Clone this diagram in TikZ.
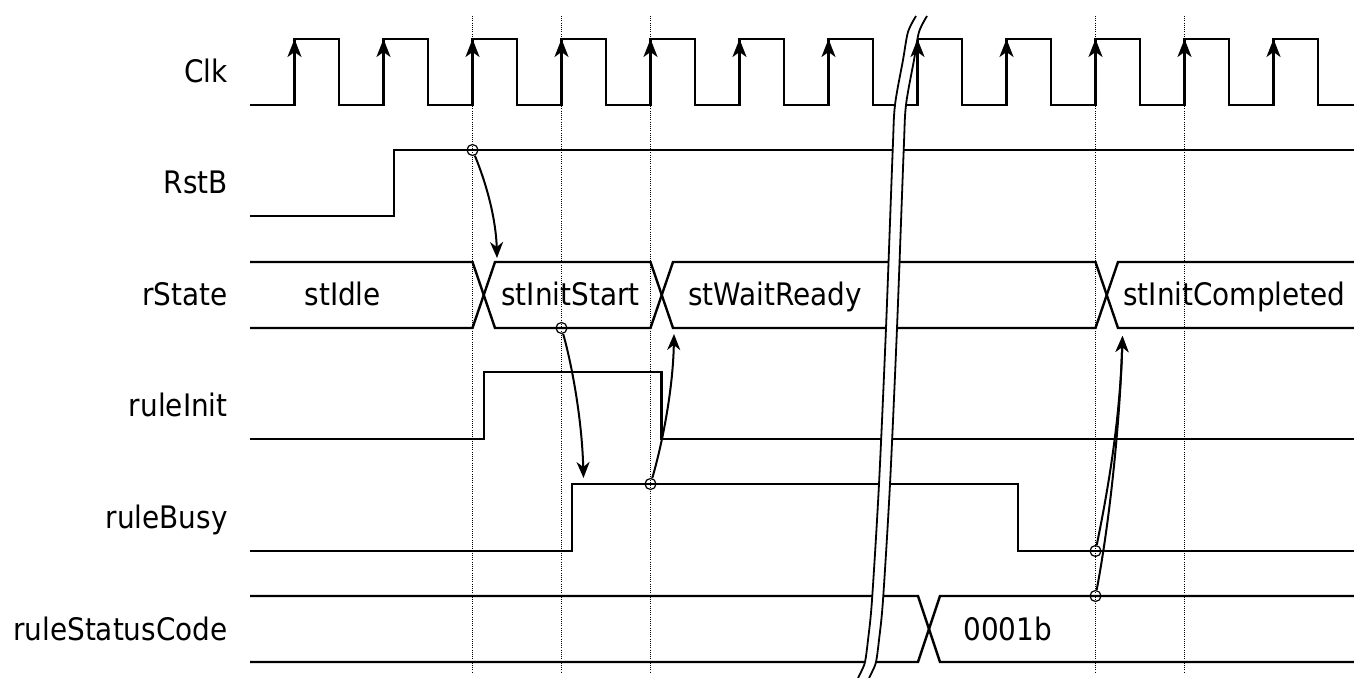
\documentclass[tikz,border=0pt]{standalone}
\usepackage{fontspec}
\setmainfont{DejaVu Sans Condensed}
\usetikzlibrary{arrows.meta}
\tikzset{
  every node/.style={font=\fontsize{15.5}{18}\selectfont, inner sep=0pt},
  siglabel/.style={anchor=base east},
  busval/.style={anchor=base west},
  wave/.style={line width=1.2pt, line join=miter},
  gridline/.style={line width=0.6pt, dash pattern=on 0.5pt off 0.6pt},
  clkedge/.style={wave, -{Stealth[length=9pt, width=7pt, inset=2.5pt]}},
  cause/.style={line width=1pt, -{Stealth[length=8pt, width=6.5pt, inset=2.5pt]}},
  ring/.style={circle, draw, line width=0.6pt, minimum size=5.5pt, inner sep=0pt},
  breakline/.style={line width=0.9pt}
}

\begin{document}
\begin{tikzpicture}[x=0.5pt, y=-0.5pt, line cap=butt]
  \useasboundingbox (0,0) rectangle (1354,678);

  % signal names
  \node[siglabel] (lblClk)    at (228,83)    {Clk};
  \node[siglabel] (lblRst)    at (228,194)   {RstB};
  \node[siglabel] (lblState)  at (228,306)   {rState};
  \node[siglabel] (lblInit)   at (228,416.5) {ruleInit};
  \node[siglabel] (lblBusy)   at (228,528.5) {ruleBusy};
  \node[siglabel] (lblStatus) at (228,640)   {ruleStatusCode};

  % dotted marks on the clock edges
  \foreach \k in {2,3,4,9,10} {
    \draw[gridline] ({294.5+89*\k},16) -- ({294.5+89*\k},672);
  }

  % Clk
  \draw[wave] (250,105) foreach \k in {0,...,11} {
      -- ({294.5+89*\k},105) -- ({294.5+89*\k},39)
      -- ({339+89*\k},39) -- ({339+89*\k},105) } -- (1354,105);

  % RstB
  \draw[wave] (250,216) -- (394,216) -- (394,150) -- (1354,150);

  % rState
  \draw[wave] (250,262) -- (472.5,262) -- (495,328) -- (650.5,328) -- (673,262)
    -- (1095.5,262) -- (1118,328) -- (1354,328);
  \draw[wave] (250,328) -- (472.5,328) -- (495,262) -- (650.5,262) -- (673,328)
    -- (1095.5,328) -- (1118,262) -- (1354,262);
  \node[busval, anchor=base] (vIdle) at (342.7,306) {stIdle};
  \node[busval] (vStart)    at (501,306)  {stInitStart};
  \node[busval] (vWait)     at (688,306)  {stWaitReady};
  \node[busval] (vComplete) at (1123,306) {stInitCompleted};

  % ruleInit
  \draw[wave] (250,439) -- (484,439) -- (484,372) -- (661.5,372) -- (661.5,439) -- (1354,439);

  % ruleBusy
  \draw[wave] (250,551) -- (572,551) -- (572,484) -- (1018,484) -- (1018,551) -- (1354,551);

  % ruleStatusCode
  \draw[wave] (250,596) -- (918,596) -- (940,662) -- (1354,662);
  \draw[wave] (250,662) -- (918,662) -- (940,596) -- (1354,596);
  \node[busval] (vCode) at (963,640) {0001b};

  % time break
  \draw[white, line width=5pt, shift={(5.5,0)}] plot[smooth] coordinates
    {(916,16) (908,32) (903,60) (895,105) (892.7,150) (886,328) (879,484) (872,600)
     (868,640) (865,662) (861,672) (858,678)};
  \draw[breakline] plot[smooth] coordinates
    {(916,16) (908,32) (903,60) (895,105) (892.7,150) (886,328) (879,484) (872,600)
     (868,640) (865,662) (861,672) (858,678)};
  \draw[breakline, shift={(11,0)}] plot[smooth] coordinates
    {(916,16) (908,32) (903,60) (895,105) (892.7,150) (886,328) (879,484) (872,600)
     (868,640) (865,662) (861,672) (858,678)};

  % rising edges
  \foreach \k in {0,...,11} {
    \draw[clkedge] ({294.5+89*\k},105) -- ({294.5+89*\k},39);
  }

  % causes
  \node[ring] (rstHi)   at (472.5,150)  {};
  \node[ring] (startLo) at (561.5,328)  {};
  \node[ring] (busyHi)  at (650.5,484)  {};
  \node[ring] (busyLo)  at (1095.5,551) {};
  \node[ring] (codeHi)  at (1095.5,596) {};
  \coordinate (startIn)    at (497,258);
  \coordinate (busyIn)     at (583.5,478);
  \coordinate (waitIn)     at (674,334);
  \coordinate (completeIn) at (1122.5,336);

  \draw[cause] (rstHi) .. controls (487,185) and (496,220) .. (startIn);
  \draw[cause] (startLo) .. controls (572,365) and (582,420) .. (busyIn);
  \draw[cause] (busyHi) .. controls (662,445) and (673,390) .. (waitIn);
  \draw[cause] (busyLo) .. controls (1108,490) and (1120,420) .. (completeIn);
  \draw[cause] (codeHi) .. controls (1110,520) and (1120,420) .. (completeIn);

\end{tikzpicture}
\end{document}
